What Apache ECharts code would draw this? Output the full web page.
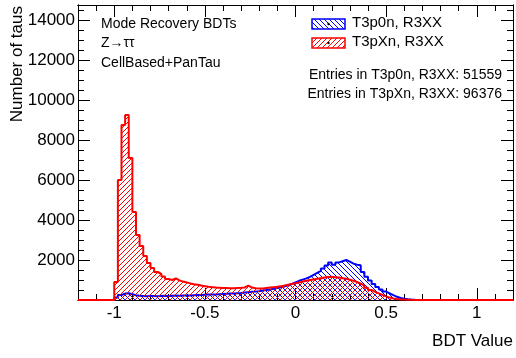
<!DOCTYPE html>
<html>
<head>
<meta charset="utf-8">
<script src="https://cdn.jsdelivr.net/npm/echarts@6/dist/echarts.min.js"></script>
<style>
html, body { margin: 0; padding: 0; background: #fff; }
#main { width: 516px; height: 358px; }
</style>
</head>
<body>
<div id="main"></div>
<script>
// histogram bins: 0.02 wide, first bin starts at -1.0
var binStart = -1.0;
var binWidth = 0.02;
var xMin = -1.2, xMax = 1.2;

var redCounts = [900, 6000, 8750, 9250, 7100, 4400, 3250, 2700, 2200, 1850,
	1600, 1400, 1300, 1180, 1050, 1000, 1080, 980, 920, 880,
	830, 790, 760, 720, 690, 660, 640, 620, 610, 600,
	600, 590, 590, 600, 610, 630, 720, 620, 590, 570,
	580, 600, 620, 640, 660, 690, 720, 760, 800, 840,
	880, 920, 960, 1000, 1030, 1060, 1090, 1120, 1150, 1160,
	1140, 1120, 1090, 1060, 1010, 960, 900, 820, 720, 610,
	500, 410, 330, 250, 180, 120, 80, 50, 30, 20, 12, 8, 5];

var blueCounts = [120, 250, 320, 340, 290, 240, 210, 200, 190, 200,
	200, 190, 200, 210, 200, 210, 220, 210, 220, 230,
	230, 240, 250, 250, 260, 270, 270, 280, 290, 300,
	310, 320, 330, 340, 350, 370, 390, 410, 420, 440,
	470, 500, 530, 560, 600, 640, 680, 740, 800, 880,
	960, 1020, 1080, 1160, 1260, 1360, 1460, 1580, 1720, 1880,
	1760, 1880, 1940, 2000, 1920, 1820, 1760, 1740, 1400, 1160,
	980, 800, 650, 530, 420, 330, 240, 160, 100, 60, 35, 20, 10];

var seriesNames = ['T3p0n, R3XX', 'T3pXn, R3XX'];
var entries = [51559, 96376];
var infoLines = ['Mode Recovery BDTs', 'Z\u2192\u03c4\u03c4', 'CellBased+PanTau'];

var xMajor = [-1, -0.5, 0, 0.5, 1];
var xMinor = [-1.2, -1.1, -0.9, -0.8, -0.7, -0.6, -0.4, -0.3, -0.2, -0.1,
	0.1, 0.2, 0.3, 0.4, 0.6, 0.7, 0.8, 0.9, 1.1, 1.2];
var yMajor = [0, 2000, 4000, 6000, 8000, 10000, 12000, 14000];
var yMinor = [500, 1000, 1500, 2500, 3000, 3500, 4500, 5000, 5500, 6500, 7000, 7500,
	8500, 9000, 9500, 10500, 11000, 11500, 12500, 13000, 13500, 14500];
var yMax = 14750;

var FONT = 'Liberation Sans, Arial, Helvetica, sans-serif';

// ROOT style hatch pattern ('/' or '\')
function hatch(color, dir) {
	var s = 5;
	var c = document.createElement('canvas');
	c.width = s;
	c.height = s;
	var ctx = c.getContext('2d');
	ctx.strokeStyle = color;
	ctx.lineWidth = 1;
	ctx.beginPath();
	if (dir === '/') {
		ctx.moveTo(-1, s + 1); ctx.lineTo(s + 1, -1);
		ctx.moveTo(-1, 1); ctx.lineTo(1, -1);
		ctx.moveTo(s - 1, s + 1); ctx.lineTo(s + 1, s - 1);
	} else {
		ctx.moveTo(-1, -1); ctx.lineTo(s + 1, s + 1);
		ctx.moveTo(s - 1, -1); ctx.lineTo(s + 1, 1);
		ctx.moveTo(-1, s - 1); ctx.lineTo(1, s + 1);
	}
	ctx.stroke();
	return { image: c, repeat: 'repeat' };
}

// step points: left bin edges, padded with zeros out to the axis range
function histPoints(counts) {
	var pts = [[xMin, 0]];
	for (var i = 0; i < counts.length; i++) {
		pts.push([+(binStart + i * binWidth).toFixed(3), counts[i]]);
	}
	pts.push([+(binStart + counts.length * binWidth).toFixed(3), 0]);
	pts.push([xMax, 0]);
	return pts;
}

var blueHatch = hatch('#0000ff', '\\');
var redHatch = hatch('#ff0000', '/');

function xAxisDef(pos, ticks, len, labels) {
	return {
		type: 'value', position: pos, min: xMin, max: xMax,
		axisLine: { show: true, onZero: false, lineStyle: { color: '#000', width: 1 } },
		axisTick: { show: true, inside: true, length: len, customValues: ticks, lineStyle: { color: '#000' } },
		axisLabel: labels ? { show: true, customValues: labels, margin: 5, color: '#000', fontSize: 17, fontFamily: FONT,
			formatter: function (v) { return String(v); } } : { show: false },
		splitLine: { show: false }
	};
}
function yAxisDef(pos, ticks, len, labels) {
	return {
		type: 'value', position: pos, min: 0, max: yMax,
		axisLine: { show: true, onZero: false, lineStyle: { color: '#000', width: 1 } },
		axisTick: { show: true, inside: true, length: len, customValues: ticks, lineStyle: { color: '#000' } },
		axisLabel: labels ? { show: true, customValues: labels, margin: 3, color: '#000', fontSize: 17, fontFamily: FONT,
			formatter: function (v) { return String(v); } } : { show: false },
		splitLine: { show: false }
	};
}

var myChart = echarts.init(document.getElementById('main'), null, { renderer: 'canvas' });

var graphics = [];
// top-left labels
for (var i = 0; i < infoLines.length; i++) {
	graphics.push({
		type: 'text', left: 101, top: 17 + i * 19.5,
		style: { text: infoLines[i], fill: '#000', font: '14px ' + FONT }
	});
}
// legend swatches
var legendColors = ['#0000ff', '#ff0000'];
var legendHatch = [blueHatch, redHatch];
for (var j = 0; j < seriesNames.length; j++) {
	var cy = 24 + j * 19;
	graphics.push({
		type: 'rect', shape: { x: 312, y: cy - 5, width: 33, height: 10 },
		style: { fill: legendHatch[j], stroke: legendColors[j], lineWidth: 1.5 }
	});
	graphics.push({
		type: 'circle', shape: { cx: 328.5, cy: cy, r: 1.2 },
		style: { fill: '#000' }
	});
	graphics.push({
		type: 'text', left: 352, top: cy - 9,
		style: { text: seriesNames[j], fill: '#000', font: '15px ' + FONT }
	});
	graphics.push({
		type: 'text', right: 14, top: 68 + j * 19,
		style: { text: 'Entries in ' + seriesNames[j] + ': ' + entries[j], fill: '#000', font: '14px ' + FONT }
	});
}
// axis titles
graphics.push({
	type: 'text', right: 3, top: 333,
	style: { text: 'BDT Value', fill: '#000', font: '17px ' + FONT }
});
graphics.push({
	type: 'text', x: 9, y: 6, rotation: Math.PI / 2,
	style: { text: 'Number of taus', fill: '#000', font: '17px ' + FONT, textAlign: 'right', textVerticalAlign: 'top' }
});

var option = {
	animation: false,
	backgroundColor: '#fff',
	grid: { left: 78, right: 3, top: 5, bottom: 58, containLabel: false },
	xAxis: [
		xAxisDef('bottom', xMajor, 12, xMajor),
		xAxisDef('bottom', xMinor, 6, null),
		xAxisDef('top', xMajor, 12, null),
		xAxisDef('top', xMinor, 6, null)
	],
	yAxis: [
		yAxisDef('left', yMajor, 12, yMajor.slice(1)),
		yAxisDef('left', yMinor, 6, null),
		yAxisDef('right', yMajor, 12, null),
		yAxisDef('right', yMinor, 6, null)
	],
	series: [{
		name: seriesNames[0],
		type: 'line',
		step: 'end',
		symbol: 'none',
		data: histPoints(blueCounts),
		lineStyle: { color: '#0000ff', width: 2 },
		areaStyle: { color: blueHatch, opacity: 1 },
		z: 3
	}, {
		name: seriesNames[1],
		type: 'line',
		step: 'end',
		symbol: 'none',
		data: histPoints(redCounts),
		lineStyle: { color: '#ff0000', width: 2 },
		areaStyle: { color: redHatch, opacity: 1 },
		z: 4
	}],
	graphic: graphics
};
myChart.setOption(option);
</script>
</body>
</html>
